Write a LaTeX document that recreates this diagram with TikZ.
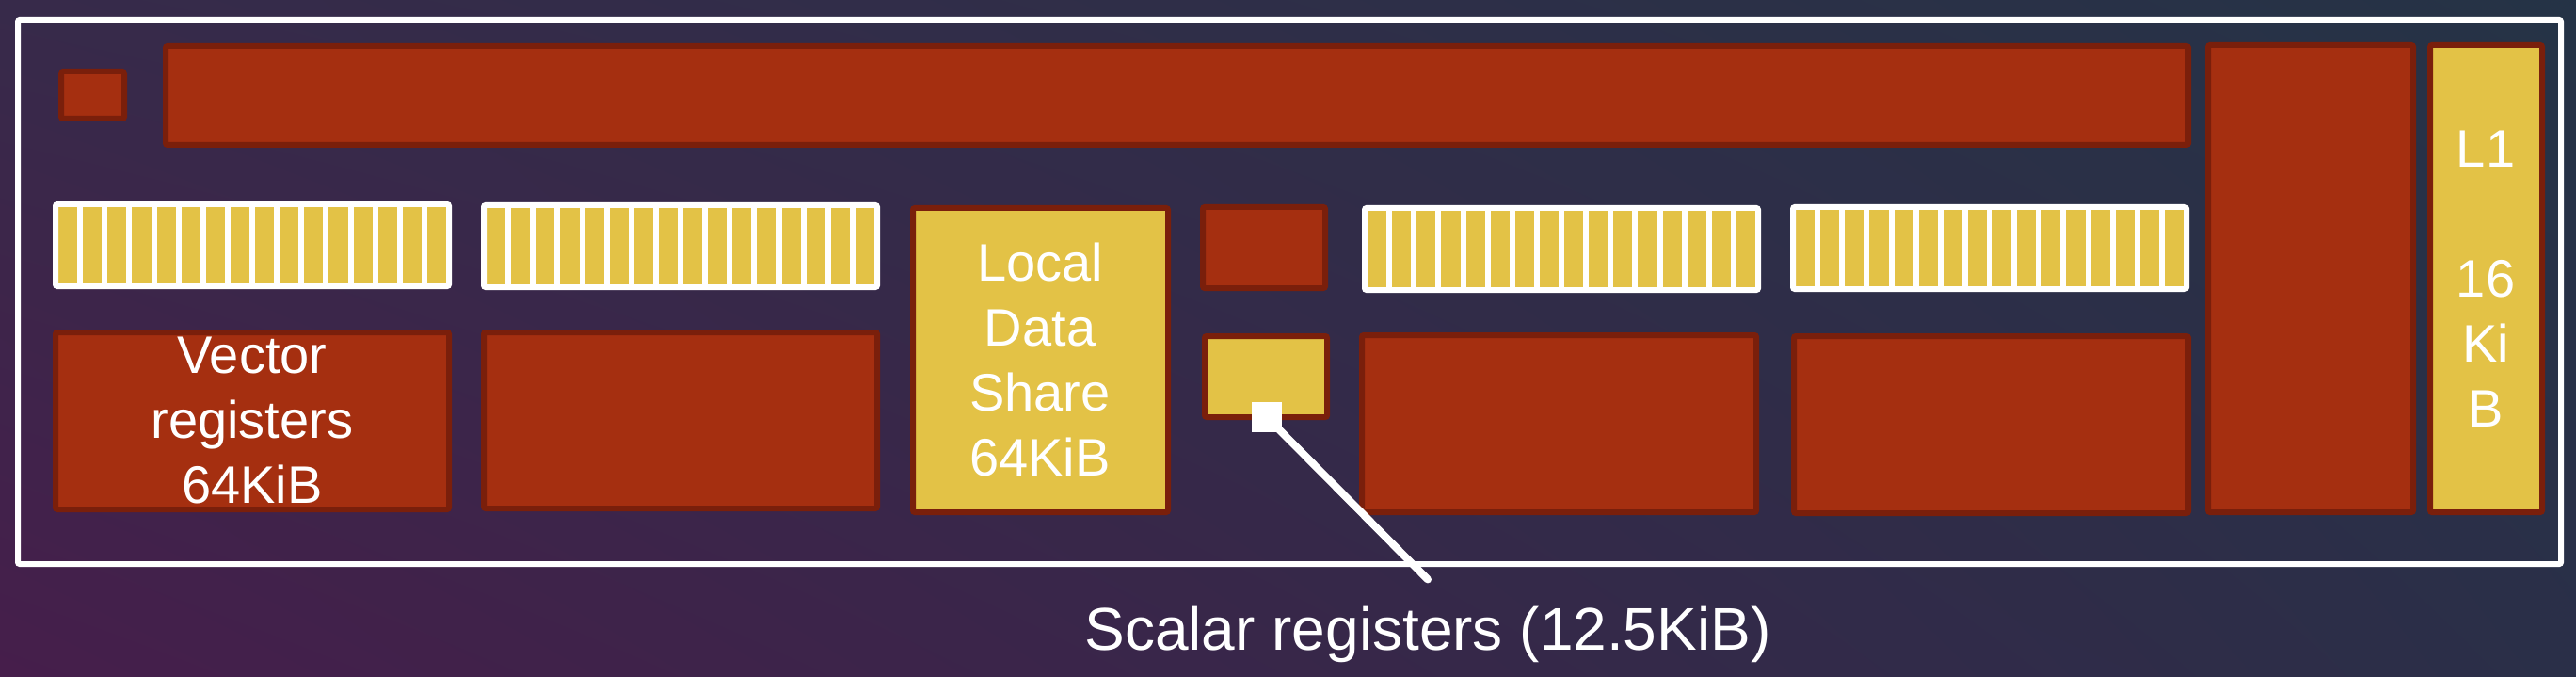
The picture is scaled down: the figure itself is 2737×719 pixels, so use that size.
\documentclass[tikz,border=0pt]{standalone}
\usepackage{fontspec}
\setmainfont{Liberation Sans}
\usetikzlibrary{shadings}

\definecolor{rojo}{RGB}{165,47,16}
\definecolor{rojoborde}{RGB}{122,31,11}
\definecolor{amarillo}{RGB}{227,194,70}
\definecolor{fondoA}{RGB}{55,42,74}
\definecolor{fondoB}{RGB}{37,51,70}
\definecolor{fondoC}{RGB}{70,30,75}
\definecolor{fondoD}{RGB}{42,47,72}

\tikzset{
  bloque/.style={fill=rojo, draw=rojoborde, line width=6pt, rounded corners=2pt},
  bloqueam/.style={fill=amarillo, draw=rojoborde, line width=6pt, rounded corners=2pt},
  banco/.style={fill=amarillo, draw=white, line width=6pt, rounded corners=2pt},
  texto/.style={text=white, align=center, inner sep=0pt, font=\fontsize{56}{69}\selectfont},
}

\begin{document}
\begin{tikzpicture}[x=1pt, y=-1pt]
        % Fondo
        \shade[upper left=fondoA, upper right=fondoB, lower left=fondoC, lower right=fondoD] (0,0) rectangle (2737,719);
        \useasboundingbox (0,0) rectangle (2737,719);

        % Marco exterior
        \draw[white, line width=6pt, rounded corners=2pt] (19,21) rectangle (2721,599);

        % Fila superior
        \draw[bloque] (65,76) rectangle (132,126);
        \draw[bloque] (176,49) rectangle (2325,154);
        \draw[bloque] (2346,48) rectangle (2564,544);
        \draw[bloqueam] (2582,48) rectangle (2701,544);

        % Bancos de registros (16 columnas)
        \foreach \bx/\by in {59/217, 514/218, 1450/221, 1905/220} {
            \draw[banco] (\bx,\by) rectangle ++(418,87);
            \foreach \i in {1,...,15}
                \draw[white, line width=6pt] ({\bx+26.125*\i},\by) -- ++(0,87);
        }

        % Bloques centrales
        \draw[bloqueam] (970,221) rectangle (1241,544);
        \draw[bloque] (1278,220) rectangle (1408,306);
        \draw[bloqueam] (1280,357) rectangle (1410,443);

        % Fila inferior
        \draw[bloque] (59,353) rectangle (477,541);
        \draw[bloque] (514,353) rectangle (932,540);
        \draw[bloque] (1447,356) rectangle (1866,544);
        \draw[bloque] (1906,357) rectangle (2325,545);

        % Textos
        \node[texto] (vregtxt) at (268,447) {Vector\\registers\\64KiB};
        \node[texto] (ldstxt) at (1105,382) {Local\\Data\\Share\\64KiB};
        \node[texto] (l1txt) at (2641,296) {L1\\{}\\16\\Ki\\B};

        % Registros escalares
        \node[fill=white, minimum size=32pt, inner sep=0pt] (sregdot) at (1346,443) {};
        \node[text=white, inner sep=28pt, anchor=base, font=\fontsize{64}{77}\selectfont] (sreglabel) at (1517,690) {Scalar registers (12.5KiB)};
        \draw[white, line width=8pt, line cap=round] (sregdot.center) -- (sreglabel.north);
\end{tikzpicture}
\end{document}
